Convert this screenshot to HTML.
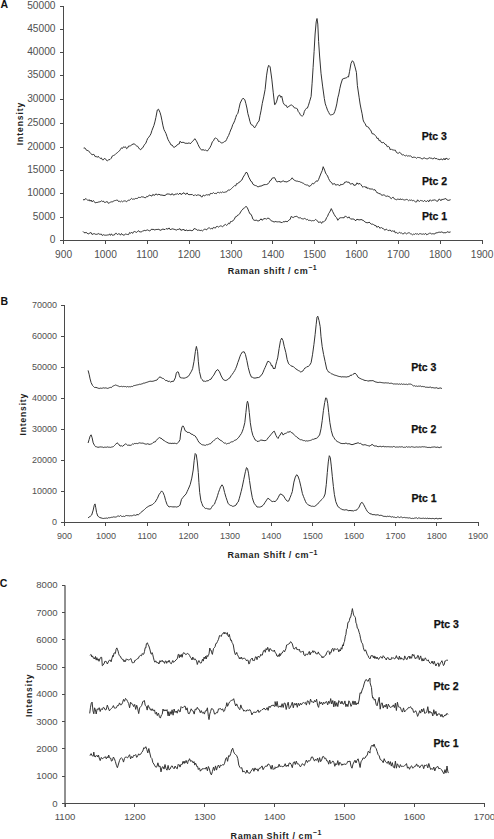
<!DOCTYPE html>
<html><head><meta charset="utf-8"><style>
html,body{margin:0;padding:0;background:#fff;overflow:hidden;}
svg{display:block;}
</style></head><body>
<svg width="494" height="839" viewBox="0 0 494 839">
<g stroke="#4a4a4a" stroke-width="1" fill="none" shape-rendering="crispEdges"><line x1="63.5" y1="6.3" x2="63.5" y2="240.3"/><line x1="60.0" y1="240.3" x2="63.5" y2="240.3"/><line x1="60.0" y1="217.4" x2="63.5" y2="217.4"/><line x1="60.0" y1="193.5" x2="63.5" y2="193.5"/><line x1="60.0" y1="170.5" x2="63.5" y2="170.5"/><line x1="60.0" y1="147.4" x2="63.5" y2="147.4"/><line x1="60.0" y1="123.6" x2="63.5" y2="123.6"/><line x1="60.0" y1="99.5" x2="63.5" y2="99.5"/><line x1="60.0" y1="75.5" x2="63.5" y2="75.5"/><line x1="60.0" y1="52.2" x2="63.5" y2="52.2"/><line x1="60.0" y1="29.4" x2="63.5" y2="29.4"/><line x1="60.0" y1="6.3" x2="63.5" y2="6.3"/><line x1="63.5" y1="240.3" x2="482.6" y2="240.3"/><line x1="63.6" y1="240.3" x2="63.6" y2="243.8"/><line x1="105.45" y1="240.3" x2="105.45" y2="243.8"/><line x1="147.3" y1="240.3" x2="147.3" y2="243.8"/><line x1="189.15" y1="240.3" x2="189.15" y2="243.8"/><line x1="231.0" y1="240.3" x2="231.0" y2="243.8"/><line x1="272.85" y1="240.3" x2="272.85" y2="243.8"/><line x1="314.70000000000005" y1="240.3" x2="314.70000000000005" y2="243.8"/><line x1="356.55" y1="240.3" x2="356.55" y2="243.8"/><line x1="398.40000000000003" y1="240.3" x2="398.40000000000003" y2="243.8"/><line x1="440.25000000000006" y1="240.3" x2="440.25000000000006" y2="243.8"/><line x1="482.1" y1="240.3" x2="482.1" y2="243.8"/></g><g font-family="Liberation Sans, sans-serif" font-size="10.2" fill="#505050" text-anchor="end"><text x="55.5" y="242.9">0</text><text x="55.5" y="220.0">5000</text><text x="55.5" y="196.1">10000</text><text x="55.5" y="173.1">15000</text><text x="55.5" y="150.0">20000</text><text x="55.5" y="126.2">25000</text><text x="55.5" y="102.1">30000</text><text x="55.5" y="78.1">35000</text><text x="55.5" y="54.8">40000</text><text x="55.5" y="32.0">45000</text><text x="55.5" y="8.9">50000</text></g><g font-family="Liberation Sans, sans-serif" font-size="10.2" fill="#505050" text-anchor="middle"><text x="63.6" y="257.5">900</text><text x="105.5" y="257.5">1000</text><text x="147.3" y="257.5">1100</text><text x="189.2" y="257.5">1200</text><text x="231.0" y="257.5">1300</text><text x="272.9" y="257.5">1400</text><text x="314.7" y="257.5">1500</text><text x="356.6" y="257.5">1600</text><text x="398.4" y="257.5">1700</text><text x="440.3" y="257.5">1800</text><text x="482.1" y="257.5">1900</text></g><text font-family="Liberation Sans, sans-serif" font-size="9" font-weight="bold" fill="#1e1e1e" x="227.7" y="274" textLength="89" lengthAdjust="spacing">Raman shift / cm<tspan font-size="7.0" dy="-3.6">&#8722;1</tspan></text><text font-family="Liberation Sans, sans-serif" font-size="8.5" font-weight="bold" fill="#1e1e1e" transform="translate(22.6,145.2) rotate(-90)" textLength="42.5" lengthAdjust="spacing">Intensity</text><text font-family="Liberation Sans, sans-serif" font-size="10.5" font-weight="bold" fill="#111" x="0.5" y="7.7">A</text><text font-family="Liberation Sans, sans-serif" font-size="10.5" font-weight="bold" fill="#111" stroke="#111" stroke-width="0.25" x="421.7" y="140.0">Ptc 3</text><text font-family="Liberation Sans, sans-serif" font-size="10.5" font-weight="bold" fill="#111" stroke="#111" stroke-width="0.25" x="422.0" y="185.4">Ptc 2</text><text font-family="Liberation Sans, sans-serif" font-size="10.5" font-weight="bold" fill="#111" stroke="#111" stroke-width="0.25" x="422.0" y="219.8">Ptc 1</text><polyline fill="none" stroke="#333" stroke-width="1" stroke-linejoin="round" points="83.6,148.1 84.9,147.9 86.1,149.8 87.1,150.5 88.1,150.4 89.1,151.8 90.1,152.5 91.1,153.8 92.1,154.9 93.2,154.4 94.2,154.7 95.2,156.7 96.2,156.3 97.2,157.4 98.2,156.2 99.2,157.5 100.2,158.5 101.3,157.9 102.3,159.7 103.3,159.9 104.3,158.5 105.3,158.7 106.3,160.0 107.3,161.0 108.6,159.8 110.0,159.5 111.2,158.3 112.4,155.9 113.4,155.5 114.4,155.1 115.4,154.4 116.4,153.3 117.4,152.7 118.5,151.5 119.5,150.8 120.5,149.3 121.5,147.8 122.5,148.4 123.5,146.8 124.5,147.3 125.5,146.8 126.6,148.7 127.6,148.0 128.6,146.0 129.6,146.0 130.7,145.7 131.9,144.7 133.0,144.1 134.4,143.8 135.7,145.3 136.7,146.0 137.7,146.3 138.7,147.9 139.7,149.2 140.7,149.8 141.7,148.3 142.8,147.7 143.8,145.8 144.8,144.2 145.8,143.3 146.8,140.5 147.8,138.2 148.8,137.2 149.8,135.7 150.9,133.9 151.9,130.6 152.9,128.0 153.9,125.5 154.9,121.9 155.9,117.4 157.3,110.0 158.5,109.2 160.0,112.4 161.0,115.9 162.0,120.8 163.0,125.9 164.0,129.7 165.0,131.6 166.0,133.6 167.0,136.6 168.1,139.7 169.1,141.4 170.1,143.1 171.1,145.0 172.1,145.0 173.1,146.7 174.1,147.5 175.1,146.6 176.2,146.2 177.2,144.8 178.2,144.2 179.2,144.0 180.1,141.2 181.1,142.5 182.1,142.4 183.1,142.3 184.1,142.6 185.1,143.3 186.1,143.2 187.1,143.4 188.2,143.3 189.2,142.7 190.2,143.9 191.2,142.8 192.2,141.6 193.5,140.5 194.8,138.7 195.9,140.2 196.9,141.9 198.1,144.6 199.3,147.1 200.5,148.8 201.7,150.2 203.0,149.6 204.4,150.3 205.4,150.0 206.4,150.6 207.4,151.0 208.6,149.4 209.8,147.8 211.1,145.3 212.4,141.7 213.5,140.8 214.5,138.5 215.5,138.0 216.5,138.5 217.5,139.2 218.5,141.5 219.5,141.4 220.5,142.0 221.6,143.2 222.6,142.7 223.6,142.3 224.6,141.5 225.6,141.2 226.6,139.5 227.6,137.2 228.6,135.5 229.7,132.6 230.7,130.0 231.7,127.9 232.7,124.7 233.7,123.0 234.7,120.7 235.7,117.6 236.7,114.7 237.8,113.6 239.0,108.3 240.2,103.1 241.8,99.8 243.0,98.2 244.8,99.7 245.9,103.7 246.9,108.0 247.9,113.7 248.9,117.2 249.9,121.3 250.9,124.3 251.9,125.0 252.9,125.4 254.6,127.9 255.6,126.4 256.6,124.6 257.8,122.2 259.0,121.2 260.0,115.6 261.0,110.9 262.3,103.3 263.7,96.9 265.1,89.6 266.5,75.9 267.7,68.2 268.7,65.3 270.1,66.8 271.8,79.1 273.2,92.2 274.6,104.6 275.1,104.6 276.5,101.9 278.1,96.1 279.7,95.0 280.7,97.3 281.7,96.1 283.2,102.7 284.2,104.5 285.2,105.3 286.2,105.3 287.2,107.5 288.2,107.1 289.2,106.0 290.2,105.4 291.3,104.9 292.3,105.6 293.3,106.2 294.3,107.8 295.3,108.0 296.3,108.3 297.3,108.8 298.3,111.7 299.4,112.8 300.4,114.8 301.4,115.9 302.4,116.0 303.4,115.1 304.4,111.3 305.4,109.6 306.4,108.3 307.4,108.1 308.5,105.2 309.5,101.8 311.1,96.5 312.1,83.2 313.1,67.4 314.1,51.4 315.1,34.0 316.2,21.9 317.0,18.5 317.8,24.1 318.6,41.3 319.6,56.0 321.0,73.2 322.6,86.1 324.3,98.4 325.3,103.9 326.3,106.6 327.5,110.2 328.7,112.4 329.7,114.4 330.7,115.0 331.7,114.7 332.8,114.4 333.8,113.8 334.8,111.4 335.8,108.1 336.8,103.9 337.8,97.8 338.8,94.1 339.8,88.7 340.9,84.0 342.5,79.0 343.9,78.5 345.2,78.1 346.5,77.9 347.5,76.7 348.5,77.0 349.6,71.3 351.0,63.4 352.4,60.7 353.6,62.1 355.0,66.9 356.4,72.3 357.4,85.7 359.1,97.2 360.1,104.0 361.1,109.1 362.1,113.8 363.1,119.9 364.1,122.5 365.1,123.4 366.2,126.2 367.2,126.6 368.4,127.1 369.6,129.2 370.1,129.4 371.1,131.0 372.1,133.7 373.1,133.8 374.1,134.2 375.1,135.3 376.1,136.4 377.1,138.5 378.2,138.2 379.2,140.8 380.2,140.4 381.2,142.3 382.2,142.8 383.2,142.3 384.2,143.0 385.2,144.4 386.3,144.7 387.3,146.8 388.3,146.4 389.3,147.1 390.3,149.9 391.3,148.9 392.3,149.9 393.3,150.0 394.4,150.2 395.4,150.2 396.4,152.4 397.4,153.0 398.4,153.4 399.4,152.2 400.4,152.8 401.4,154.0 402.4,155.1 403.5,154.7 404.5,155.5 405.5,155.9 406.5,155.3 407.5,156.1 408.5,155.8 409.5,156.0 410.5,155.9 411.6,156.6 412.6,158.0 413.6,156.9 414.6,157.3 415.6,157.5 416.6,158.3 417.6,157.4 418.6,157.5 419.7,157.7 420.7,157.9 421.7,158.9 422.7,159.0 423.7,157.8 424.7,158.0 425.7,158.6 426.7,158.8 427.8,158.8 428.8,158.1 429.8,157.7 430.8,158.3 431.8,158.1 432.8,159.2 433.8,158.1 434.8,157.9 435.9,158.9 436.9,158.4 437.9,159.6 438.9,159.2 439.9,160.0 440.9,158.7 441.9,159.5 442.9,159.9 443.9,158.3 445.0,160.0 446.0,158.0 447.0,158.8 448.3,159.4 449.6,158.6"/><polyline fill="none" stroke="#333" stroke-width="1" stroke-linejoin="round" points="83.0,199.4 84.0,200.1 85.1,199.1 86.1,198.6 87.1,199.7 88.1,200.7 89.1,199.6 90.1,201.2 91.1,200.0 92.1,201.9 93.2,200.5 94.2,201.4 95.2,202.9 96.2,202.5 97.2,202.5 98.2,202.1 99.2,201.9 100.2,201.8 101.3,200.8 102.3,201.5 103.3,201.0 104.3,202.3 105.3,202.4 106.3,201.8 107.3,201.6 108.3,203.3 109.4,202.8 110.4,202.2 111.4,201.8 112.4,202.1 113.4,201.0 114.4,200.7 115.4,200.5 116.4,200.2 117.4,200.0 118.5,201.5 119.5,201.3 120.5,201.8 121.5,201.0 122.5,201.8 123.5,201.1 124.5,200.9 125.5,201.0 126.6,201.8 127.6,200.6 128.6,200.2 129.6,200.3 130.6,199.2 131.6,198.4 132.6,199.3 133.6,199.0 134.7,199.1 135.7,198.4 136.7,198.5 137.7,198.3 138.7,197.2 139.7,197.5 140.7,197.4 141.7,196.7 142.8,197.0 143.8,197.1 144.8,197.7 145.8,197.7 146.8,196.3 147.8,196.8 148.8,195.4 149.8,195.1 150.9,195.7 151.9,196.1 152.9,194.3 153.9,195.2 154.9,195.2 155.9,193.8 156.9,194.6 157.9,195.0 158.9,194.1 160.0,194.9 161.0,195.1 162.0,195.0 163.0,195.4 164.0,195.4 165.0,195.5 166.0,194.7 167.0,193.9 168.1,194.1 169.1,193.9 170.1,194.6 171.1,194.9 172.1,193.5 173.1,194.9 174.1,195.0 175.1,194.1 176.2,194.3 177.2,193.5 178.6,194.5 180.0,193.0 181.0,194.6 182.0,193.9 183.0,193.3 184.0,192.7 185.1,194.1 186.1,194.3 187.1,192.9 188.1,194.4 189.1,194.7 190.1,194.5 191.1,194.7 192.1,194.3 193.2,195.4 194.2,195.6 195.2,194.6 196.2,195.6 197.2,195.1 198.2,194.8 199.2,195.3 200.2,195.1 201.3,196.9 202.3,196.8 203.3,195.0 204.3,195.8 205.3,195.4 206.3,194.7 207.3,195.0 208.3,194.6 209.4,195.3 210.4,193.4 211.4,193.5 212.4,193.6 213.4,192.5 214.4,193.5 215.4,193.4 216.4,193.7 217.4,192.4 218.5,192.4 219.5,192.9 220.5,192.2 221.5,192.7 222.5,191.9 223.5,192.4 224.5,192.3 225.5,192.0 226.6,191.9 227.6,190.5 228.6,190.0 229.6,190.1 230.6,189.4 231.6,188.5 232.6,187.4 233.6,186.6 234.7,185.5 235.7,185.9 236.7,183.5 237.7,183.8 238.7,182.4 239.7,182.2 240.7,180.8 241.9,180.0 243.2,177.1 244.8,174.6 246.0,172.3 247.2,172.8 248.8,177.2 249.8,179.0 250.9,181.3 251.9,181.8 252.9,184.2 254.1,185.0 255.3,185.5 256.6,185.9 257.9,186.9 258.9,186.6 260.0,186.0 261.0,186.2 262.0,185.6 263.0,185.2 264.0,184.7 265.3,184.6 266.6,184.5 267.9,183.9 269.1,182.5 270.1,180.6 271.1,180.2 272.1,178.2 273.1,177.9 274.5,177.6 276.2,180.7 277.2,182.0 278.2,181.5 280.0,181.6 280.1,182.1 281.1,181.9 282.1,181.5 283.1,180.7 284.1,181.5 285.1,181.7 286.1,181.7 287.1,182.1 288.2,181.0 289.2,180.7 290.2,180.2 291.2,179.1 292.2,177.8 293.2,179.3 294.2,180.1 295.2,180.6 296.3,181.1 297.3,181.1 298.3,181.5 299.3,181.5 300.3,182.1 301.3,182.3 302.3,182.9 303.3,183.2 304.4,184.2 305.4,184.6 306.4,185.0 307.7,185.1 309.0,186.3 310.2,186.1 311.4,184.8 312.4,183.3 313.5,184.0 314.5,182.7 315.5,182.1 316.5,180.8 317.5,181.3 318.5,179.7 319.5,177.1 321.2,172.9 322.2,170.7 323.2,166.7 324.6,170.1 325.6,173.0 326.6,174.6 327.6,176.0 328.6,178.6 329.7,180.7 330.7,182.1 331.7,182.6 332.7,184.5 333.7,183.8 334.7,183.6 335.7,185.2 336.7,184.8 337.8,184.6 338.8,185.1 339.8,185.8 340.8,184.2 341.8,184.7 342.8,184.3 343.8,183.9 344.8,182.1 345.9,182.1 346.9,181.6 347.9,182.5 348.9,182.0 349.9,183.7 350.9,184.2 351.9,183.6 352.9,183.6 353.9,185.4 355.0,185.1 356.0,184.9 357.0,182.8 358.0,184.1 359.0,183.8 360.0,183.5 361.0,184.7 362.0,186.3 363.1,187.3 364.1,186.3 365.1,187.4 366.1,186.7 367.1,188.5 368.1,187.6 369.1,188.8 370.1,188.9 371.2,189.1 372.2,188.9 373.6,189.9 375.0,189.7 376.1,191.3 377.1,192.9 378.1,192.7 379.1,193.9 380.1,193.4 381.1,194.8 382.1,195.3 383.2,194.9 384.2,194.9 385.2,195.8 386.2,196.4 387.2,195.9 388.2,196.4 389.2,196.4 390.2,197.8 391.3,198.7 392.3,197.5 393.3,197.3 394.3,198.9 395.3,199.3 396.3,199.8 397.3,199.3 398.3,198.9 399.4,200.0 400.4,198.7 401.4,200.0 402.4,199.0 403.4,199.7 404.4,200.0 405.4,199.8 406.4,199.4 407.4,199.6 408.5,200.7 409.5,200.0 410.5,200.4 411.5,199.8 412.5,200.9 413.5,200.4 414.5,201.1 415.5,201.9 416.6,201.9 417.6,199.8 418.6,201.1 419.6,201.4 420.6,200.4 421.6,200.7 422.6,200.9 423.6,201.5 424.7,200.3 425.7,201.5 426.7,201.4 427.7,200.4 428.7,201.9 429.7,200.0 430.7,200.2 431.7,201.1 432.8,199.8 433.8,200.3 434.8,199.8 435.8,200.4 436.8,201.2 437.8,201.2 438.8,199.3 439.8,199.2 440.9,200.8 441.9,199.2 442.9,199.6 443.9,199.1 444.9,198.9 445.9,198.5 446.9,199.9 447.9,200.3 448.9,200.3 450.6,199.7"/><polyline fill="none" stroke="#333" stroke-width="1" stroke-linejoin="round" points="83.0,231.4 84.0,232.6 85.1,232.8 86.1,232.4 87.1,233.1 88.1,234.0 89.1,233.5 90.1,232.8 91.1,232.6 92.1,234.5 93.2,233.9 94.2,233.6 95.2,234.2 96.2,234.3 97.2,234.3 98.2,233.5 99.2,234.1 100.2,234.3 101.3,234.0 102.3,235.5 103.3,234.7 104.3,235.1 105.3,235.2 106.3,235.2 107.3,235.0 108.3,235.0 109.4,234.0 110.4,235.4 111.4,233.8 112.4,235.3 113.4,235.1 114.4,235.0 115.4,233.4 116.4,233.3 117.4,234.6 118.5,233.8 119.5,233.8 120.5,235.2 121.5,233.5 122.8,234.9 124.1,235.2 125.3,234.1 126.6,234.3 127.6,234.5 128.6,234.6 129.6,232.5 130.6,233.3 131.6,232.2 132.6,233.4 133.6,231.8 134.7,231.5 135.7,232.0 136.7,232.4 137.7,231.3 138.7,230.7 139.7,232.0 140.7,231.9 141.7,231.9 142.8,230.7 143.8,230.8 144.8,230.3 145.8,230.7 146.8,230.1 147.8,229.9 148.8,230.6 149.8,230.9 150.9,230.0 151.9,228.9 152.9,229.8 153.9,229.3 154.9,230.2 155.9,229.4 156.9,229.5 157.9,229.4 158.9,229.3 160.0,230.2 161.0,230.2 162.0,229.3 163.0,229.1 164.0,229.4 165.0,229.6 166.0,228.6 167.0,228.9 168.1,229.1 169.1,227.9 170.1,229.6 171.1,229.4 172.1,228.8 173.1,229.0 174.1,229.3 175.1,229.5 176.2,230.2 177.2,229.5 178.2,229.5 180.0,228.7 181.0,230.5 182.0,229.6 183.0,229.9 184.0,229.3 185.1,231.0 186.1,229.8 187.1,230.6 188.1,230.5 189.1,230.4 190.1,230.2 191.1,230.6 192.1,230.7 193.2,230.1 194.2,228.5 195.2,228.9 196.2,229.2 197.2,230.3 198.2,230.0 199.2,230.2 200.2,230.6 201.3,230.2 202.3,231.0 203.3,230.1 204.3,229.3 205.3,229.2 206.3,230.0 207.3,228.9 208.3,228.1 209.4,227.9 210.4,228.8 211.4,228.4 212.4,229.0 213.4,227.4 214.4,227.7 215.4,228.1 216.4,226.5 217.4,226.4 218.5,227.1 219.5,226.4 220.5,225.9 221.5,226.1 222.5,226.7 223.5,226.1 224.5,224.8 225.5,224.4 226.6,225.4 227.6,224.6 228.6,223.1 229.6,223.8 230.6,221.5 231.6,221.5 232.9,220.9 234.3,219.2 235.5,216.8 236.7,216.5 237.7,215.0 238.7,214.7 239.7,213.8 241.0,211.2 242.3,210.0 243.4,208.4 244.4,207.9 246.0,206.4 247.2,207.4 248.8,211.3 249.8,213.7 250.9,214.2 251.9,216.1 252.9,219.2 253.9,220.1 254.9,220.4 255.9,220.3 256.9,220.2 257.9,221.1 258.9,220.7 260.0,220.1 261.0,218.8 262.0,220.3 263.0,219.4 264.0,218.7 265.3,218.6 266.6,219.1 267.9,218.0 269.1,218.6 270.3,219.5 271.5,221.1 272.8,221.3 274.1,222.1 275.1,221.5 276.2,221.7 277.2,221.9 278.6,221.8 280.0,221.9 281.1,222.4 282.1,222.7 283.1,221.6 284.1,222.0 285.1,221.4 286.1,221.4 287.1,221.8 288.2,220.9 289.2,219.8 290.2,219.4 291.2,216.4 292.2,217.1 293.2,217.6 294.2,216.8 295.2,216.6 296.3,216.3 297.3,216.5 298.3,217.8 299.3,217.9 300.3,217.7 301.3,218.5 302.3,218.8 303.3,219.0 304.4,218.4 305.4,218.8 306.4,219.7 307.4,219.3 308.4,220.4 309.4,220.3 310.4,220.4 311.4,220.9 312.4,220.6 313.5,220.7 314.5,220.5 315.5,219.4 316.5,220.2 317.5,220.8 318.5,222.5 319.5,222.2 320.5,221.8 321.6,223.4 322.6,221.6 323.6,221.8 324.6,221.2 325.6,220.1 326.6,217.6 327.6,216.3 328.6,213.6 329.7,212.1 331.3,208.6 332.7,211.6 334.3,214.7 335.7,216.9 336.7,217.8 337.8,220.3 339.0,218.5 340.2,217.8 341.5,217.7 342.8,217.7 344.1,217.8 345.4,215.9 346.7,217.2 347.9,218.0 348.9,216.8 349.9,218.2 350.9,219.3 351.9,218.8 352.9,219.1 353.9,219.0 355.0,220.4 356.0,220.6 357.0,219.0 358.0,219.9 359.0,219.6 360.0,220.1 361.0,219.3 362.0,220.0 363.1,220.3 364.1,221.1 365.1,222.0 366.1,222.5 367.1,222.7 368.1,222.8 369.1,222.0 370.1,223.1 371.2,224.2 372.2,224.0 373.6,224.6 375.0,225.6 376.1,225.7 377.1,227.4 378.1,226.2 379.1,227.0 380.1,228.4 381.1,227.3 382.1,228.3 383.2,228.4 384.2,229.7 385.2,230.2 386.2,229.0 387.2,229.7 388.2,230.7 389.2,230.3 390.2,230.0 391.3,231.4 392.3,230.8 393.3,231.4 394.3,230.7 395.3,232.9 396.3,232.4 397.3,233.2 398.3,233.4 399.4,232.2 400.4,233.0 401.4,232.9 402.4,233.7 403.4,234.0 404.4,232.8 405.4,233.0 406.4,233.9 407.4,233.3 408.5,232.8 409.5,232.9 410.5,233.8 411.5,234.0 412.5,234.8 413.5,234.1 414.5,234.4 415.5,233.6 416.6,234.1 417.6,233.8 418.6,234.5 419.6,233.7 420.6,233.7 421.6,234.1 422.6,234.2 423.6,233.9 424.7,234.3 425.7,233.4 426.7,234.8 427.7,234.3 428.7,233.9 429.7,232.9 430.7,233.4 431.7,234.0 432.8,233.7 433.8,233.9 434.8,234.0 435.8,232.7 436.8,232.9 437.8,232.6 438.8,232.2 439.8,232.2 440.9,232.3 441.9,231.8 442.9,232.6 443.9,232.9 444.9,232.6 445.9,232.9 446.9,231.9 447.9,231.8 448.9,232.4 450.6,231.9"/><g stroke="#4a4a4a" stroke-width="1" fill="none" shape-rendering="crispEdges"><line x1="64.5" y1="305.12" x2="64.5" y2="522.4"/><line x1="61.0" y1="522.4" x2="64.5" y2="522.4"/><line x1="61.0" y1="491.35999999999996" x2="64.5" y2="491.35999999999996"/><line x1="61.0" y1="460.32" x2="64.5" y2="460.32"/><line x1="61.0" y1="429.28" x2="64.5" y2="429.28"/><line x1="61.0" y1="398.24" x2="64.5" y2="398.24"/><line x1="61.0" y1="367.2" x2="64.5" y2="367.2"/><line x1="61.0" y1="336.15999999999997" x2="64.5" y2="336.15999999999997"/><line x1="61.0" y1="305.12" x2="64.5" y2="305.12"/><line x1="64.5" y1="522.4" x2="478.6" y2="522.4"/><line x1="64.5" y1="522.4" x2="64.5" y2="525.9"/><line x1="105.86" y1="522.4" x2="105.86" y2="525.9"/><line x1="147.22" y1="522.4" x2="147.22" y2="525.9"/><line x1="188.57999999999998" y1="522.4" x2="188.57999999999998" y2="525.9"/><line x1="229.94" y1="522.4" x2="229.94" y2="525.9"/><line x1="271.3" y1="522.4" x2="271.3" y2="525.9"/><line x1="312.65999999999997" y1="522.4" x2="312.65999999999997" y2="525.9"/><line x1="354.02" y1="522.4" x2="354.02" y2="525.9"/><line x1="395.38" y1="522.4" x2="395.38" y2="525.9"/><line x1="436.74" y1="522.4" x2="436.74" y2="525.9"/><line x1="478.1" y1="522.4" x2="478.1" y2="525.9"/></g><g font-family="Liberation Sans, sans-serif" font-size="9" fill="#505050" text-anchor="end"><text x="57" y="524.8">0</text><text x="57" y="493.8">10000</text><text x="57" y="462.7">20000</text><text x="57" y="431.7">30000</text><text x="57" y="400.6">40000</text><text x="57" y="369.6">50000</text><text x="57" y="338.6">60000</text><text x="57" y="307.5">70000</text></g><g font-family="Liberation Sans, sans-serif" font-size="9" fill="#505050" text-anchor="middle"><text x="64.5" y="538.8">900</text><text x="105.9" y="538.8">1000</text><text x="147.2" y="538.8">1100</text><text x="188.6" y="538.8">1200</text><text x="229.9" y="538.8">1300</text><text x="271.3" y="538.8">1400</text><text x="312.7" y="538.8">1500</text><text x="354.0" y="538.8">1600</text><text x="395.4" y="538.8">1700</text><text x="436.7" y="538.8">1800</text><text x="478.1" y="538.8">1900</text></g><text font-family="Liberation Sans, sans-serif" font-size="9" font-weight="bold" fill="#1e1e1e" x="227.5" y="558.2" textLength="90" lengthAdjust="spacing">Raman Shift / cm<tspan font-size="7.0" dy="-3.6">&#8722;1</tspan></text><text font-family="Liberation Sans, sans-serif" font-size="8.5" font-weight="bold" fill="#1e1e1e" transform="translate(25.8,435.5) rotate(-90)" textLength="41.8" lengthAdjust="spacing">Intensity</text><text font-family="Liberation Sans, sans-serif" font-size="10.5" font-weight="bold" fill="#111" x="0.5" y="304.7">B</text><text font-family="Liberation Sans, sans-serif" font-size="10.5" font-weight="bold" fill="#111" stroke="#111" stroke-width="0.25" x="411.2" y="370.9">Ptc 3</text><text font-family="Liberation Sans, sans-serif" font-size="10.5" font-weight="bold" fill="#111" stroke="#111" stroke-width="0.25" x="411.2" y="433.4">Ptc 2</text><text font-family="Liberation Sans, sans-serif" font-size="10.5" font-weight="bold" fill="#111" stroke="#111" stroke-width="0.25" x="411.4" y="501.9">Ptc 1</text><polyline fill="none" stroke="#333" stroke-width="1" stroke-linejoin="round" points="88.1,370.4 89.1,374.2 90.1,378.9 91.1,382.6 92.6,385.6 93.6,386.6 94.6,387.5 95.9,387.4 97.2,387.8 98.2,388.2 99.2,388.5 100.2,388.1 101.3,388.3 102.3,388.2 103.3,387.8 104.3,388.1 105.3,387.9 106.3,388.0 107.3,388.4 108.3,388.2 109.4,387.7 110.4,387.4 111.4,387.6 112.4,386.4 113.4,385.9 114.4,385.5 115.4,385.0 116.4,385.3 117.4,385.7 118.5,386.1 119.5,386.6 120.5,386.5 121.5,386.3 122.5,386.7 123.5,386.4 124.5,386.6 125.5,386.5 126.6,387.0 127.6,386.5 128.6,386.9 129.6,386.7 130.6,386.8 131.6,386.4 132.6,386.5 133.6,385.7 134.7,385.5 135.7,385.3 136.7,385.0 137.7,384.8 138.7,384.6 139.7,384.2 140.7,384.3 141.7,383.9 142.8,383.6 143.8,383.0 144.8,383.1 145.8,382.6 146.8,382.3 147.8,382.0 148.8,381.6 149.8,381.3 150.9,381.2 151.9,381.4 152.9,381.2 153.9,381.0 154.9,380.6 155.9,380.3 156.9,380.1 157.9,378.8 158.9,377.5 160.0,376.9 161.1,377.5 162.3,378.3 163.4,378.5 164.5,379.5 165.7,380.6 166.9,380.5 168.1,381.5 169.4,381.2 170.6,382.1 172.0,381.3 173.5,381.4 175.3,377.9 176.3,373.2 177.3,371.8 178.4,372.1 179.4,375.7 180.1,377.5 181.4,377.9 182.7,378.0 184.1,378.2 185.5,377.8 186.9,377.2 188.3,376.4 189.4,374.8 190.5,372.9 191.5,371.2 192.6,368.7 194.0,361.4 195.4,351.3 196.4,346.4 197.6,351.7 198.3,361.2 199.4,371.4 201.1,378.4 202.2,379.5 203.2,381.2 204.3,381.1 205.3,381.5 206.8,380.8 208.2,380.8 209.6,379.6 211.0,379.2 212.4,376.8 213.8,375.1 214.9,373.0 216.0,370.9 217.8,369.5 219.5,371.8 221.2,376.0 223.1,379.4 224.1,380.0 225.2,380.5 226.2,380.3 227.3,380.0 228.7,378.4 230.0,377.8 231.0,375.8 232.1,374.5 233.4,372.6 234.7,370.6 235.7,368.5 236.7,366.1 237.8,362.6 238.8,360.0 239.8,356.9 240.8,354.4 242.4,352.0 244.2,351.8 245.4,354.3 246.9,360.7 248.3,367.7 249.9,373.7 251.5,377.2 252.7,377.4 253.9,378.1 255.0,378.0 256.0,378.0 257.0,377.6 258.3,377.6 259.6,377.2 260.8,375.4 262.0,374.6 263.1,372.2 264.1,369.7 265.1,367.5 266.1,365.2 267.7,361.4 269.1,361.5 270.5,363.1 271.6,366.1 272.2,365.5 273.6,369.0 273.8,368.1 275.0,368.7 275.7,365.2 276.7,361.4 277.7,357.9 279.1,348.6 280.5,340.5 281.7,338.1 283.0,340.7 284.2,346.3 285.8,352.4 287.2,359.7 288.6,363.8 289.6,364.5 290.6,365.5 292.0,366.3 293.3,366.5 294.6,367.9 295.9,368.9 297.1,369.7 298.3,370.5 299.6,371.1 300.8,372.1 301.8,371.5 302.8,371.1 303.8,369.5 304.8,368.1 305.8,367.8 306.8,366.7 308.2,366.5 309.5,365.4 311.1,362.7 312.5,354.8 313.9,344.7 315.1,334.7 316.2,324.3 317.0,317.1 317.8,316.2 319.0,320.5 320.2,326.7 321.0,336.8 322.2,346.7 323.6,354.5 325.1,361.5 326.7,369.0 327.7,370.7 328.7,372.2 329.7,372.3 330.7,373.3 331.7,373.9 332.8,374.2 333.8,374.8 334.8,375.2 335.8,375.4 336.8,375.7 337.8,376.1 338.8,376.4 339.8,376.6 340.9,376.7 341.9,377.1 342.9,376.6 343.9,377.0 344.9,376.8 345.9,377.0 346.9,377.0 347.9,376.6 348.9,376.6 350.0,375.7 351.0,375.0 352.0,375.3 353.0,374.3 354.0,373.7 355.0,373.2 356.6,374.6 358.1,377.3 359.1,377.9 360.1,378.4 361.4,379.1 362.7,379.5 363.9,380.1 365.1,380.5 366.4,380.5 367.6,380.9 368.0,381.1 370.0,380.7 371.1,380.8 372.1,380.6 373.1,380.7 374.1,381.2 375.1,381.8 376.1,382.0 377.1,382.3 378.2,382.5 379.2,382.3 380.2,382.3 381.2,382.5 382.2,382.7 383.2,382.8 384.2,383.0 385.2,382.8 386.3,382.9 387.3,383.0 388.3,382.9 389.3,383.4 390.3,383.3 391.3,383.2 392.3,383.5 393.3,384.0 394.4,383.9 395.4,384.0 396.4,384.0 397.4,383.9 398.4,384.3 399.4,383.9 400.4,384.4 401.4,383.8 402.4,384.4 403.5,384.1 404.5,384.3 405.5,384.4 406.5,384.2 407.5,384.6 408.5,384.1 409.5,384.1 410.5,384.1 411.6,384.5 412.6,385.3 413.6,386.0 414.6,385.7 415.6,386.3 416.6,386.0 417.6,386.4 418.6,386.1 419.7,386.2 420.7,386.0 421.7,386.7 422.7,386.4 423.7,386.7 424.7,386.7 425.7,387.3 426.7,387.2 427.8,387.3 428.8,387.4 429.8,387.2 430.8,387.1 431.8,387.9 432.8,387.5 433.8,387.9 434.8,388.0 435.9,387.9 436.9,387.7 437.9,388.5 438.9,388.3 439.9,388.0 440.9,388.0 441.9,388.6"/><polyline fill="none" stroke="#333" stroke-width="1" stroke-linejoin="round" points="88.1,443.0 89.1,439.6 90.1,436.2 91.1,434.8 92.1,437.7 93.2,442.9 94.6,445.5 95.6,446.7 96.6,446.8 97.9,447.3 99.2,447.1 100.2,446.9 101.3,447.0 102.3,447.0 103.3,447.5 104.3,447.2 105.3,447.2 106.3,447.3 107.3,446.9 108.3,447.2 109.4,447.2 110.4,447.4 111.4,447.1 112.4,446.9 113.4,446.6 114.4,445.6 115.4,444.6 117.0,442.8 118.5,443.9 120.1,446.1 121.3,445.7 122.5,446.3 124.1,445.0 125.5,443.9 126.6,444.4 127.6,445.3 128.9,445.1 130.2,445.4 131.4,445.0 132.6,443.9 133.6,444.2 134.7,443.4 135.7,443.6 136.7,443.4 137.7,443.6 138.7,443.1 139.7,442.8 140.7,443.1 141.7,443.2 142.8,443.1 143.8,443.4 144.8,443.9 145.8,444.1 146.8,444.1 147.8,443.7 149.1,444.4 150.4,444.2 151.7,443.9 152.9,442.7 154.1,442.0 155.3,441.9 156.3,440.4 157.3,439.2 158.3,438.4 159.4,437.5 161.0,438.4 162.0,438.8 163.0,440.0 164.2,440.6 165.4,441.5 166.7,442.2 168.1,442.9 169.1,443.4 170.1,443.1 171.1,443.6 172.1,443.2 173.1,443.5 174.1,443.2 175.4,443.4 176.8,443.7 177.8,442.8 178.8,441.9 180.0,439.6 180.7,432.8 182.1,426.6 183.1,425.9 184.1,427.7 185.1,430.7 186.1,431.1 187.1,432.3 188.2,432.4 189.2,432.5 190.2,433.0 191.2,434.2 192.2,434.1 193.2,435.2 194.2,435.4 195.2,436.0 196.9,438.6 197.9,440.5 198.9,442.3 200.1,443.2 201.3,444.3 202.3,444.8 203.3,444.9 204.4,445.2 205.4,445.4 206.4,444.7 207.4,444.8 208.4,444.4 209.4,443.9 210.4,443.9 211.7,442.3 213.1,441.3 214.3,440.1 215.5,439.0 216.5,438.5 217.5,437.9 219.1,439.2 220.1,440.1 221.2,440.6 222.4,441.4 223.6,442.7 224.6,443.2 225.6,443.1 226.6,444.0 227.6,443.5 228.6,443.3 229.7,443.1 230.7,442.2 231.7,441.8 232.7,441.9 233.7,440.9 234.7,440.3 235.7,440.0 236.7,439.5 237.8,438.2 238.8,437.3 240.1,435.3 241.4,433.5 242.4,431.2 243.4,428.3 244.8,422.7 245.9,412.6 246.9,403.4 247.5,401.2 248.3,404.0 249.3,412.6 250.3,422.7 251.5,430.2 252.9,435.5 253.9,437.4 255.0,439.8 256.0,440.2 257.0,441.4 258.3,441.3 259.6,440.9 260.8,440.0 262.0,440.2 263.1,440.4 264.1,440.7 265.1,440.5 266.1,440.5 267.1,439.3 268.1,437.9 269.1,436.6 270.1,435.8 271.2,434.2 272.2,433.1 273.2,431.8 274.2,431.1 275.0,432.9 276.1,435.6 277.1,437.4 278.1,438.5 279.1,436.3 280.1,435.0 281.7,432.3 283.2,435.1 284.2,433.8 285.2,433.5 286.5,433.0 287.8,431.9 289.0,432.2 290.2,431.3 291.3,432.6 292.3,432.7 293.3,434.1 294.3,434.9 295.5,435.9 296.7,437.1 298.0,438.0 299.4,439.1 300.4,439.7 301.4,439.7 302.4,440.1 303.4,440.6 304.4,440.5 305.4,441.1 306.4,440.8 307.4,441.0 308.5,440.8 309.5,440.6 310.5,440.4 311.5,440.0 312.5,439.3 313.7,439.3 314.9,438.7 316.3,438.4 317.6,437.6 318.6,436.1 319.6,435.0 321.0,428.8 322.2,420.7 323.4,410.7 324.7,402.5 325.7,397.9 326.7,398.3 327.7,403.3 328.7,412.4 329.9,422.7 331.3,430.7 332.8,436.0 333.8,437.4 334.8,439.1 336.0,440.5 337.2,441.5 338.5,442.1 339.8,442.8 340.9,443.4 341.9,443.5 342.9,443.6 343.9,443.5 344.9,443.6 345.9,443.0 346.9,443.5 347.9,444.0 348.9,443.6 350.0,444.0 351.0,444.4 352.0,444.7 353.0,444.4 354.0,444.1 355.0,443.7 356.0,443.4 357.0,443.2 358.1,442.7 359.4,443.5 360.7,443.4 361.9,444.5 363.1,445.0 364.1,444.8 365.1,444.7 366.2,445.1 367.4,445.5 368.7,445.8 370.0,446.1 371.0,445.1 372.1,444.5 373.1,444.9 374.1,446.0 375.1,446.1 376.1,445.8 377.1,446.4 378.2,446.7 379.2,446.5 380.2,446.2 381.2,446.8 382.2,446.6 383.2,446.2 384.2,446.8 385.2,446.6 386.3,446.8 387.3,446.7 388.3,446.7 389.3,446.8 390.3,446.9 391.3,446.8 392.3,447.1 393.3,446.5 394.4,446.6 395.4,447.2 396.4,447.0 397.4,447.0 398.4,447.1 399.4,446.8 400.4,447.0 401.4,446.8 402.4,446.8 403.5,447.4 404.5,447.2 405.5,447.3 406.5,446.6 407.5,447.2 408.5,446.9 409.5,447.0 410.5,447.2 411.6,446.7 412.6,446.9 413.6,447.1 414.6,447.3 415.6,447.1 416.6,446.9 417.6,447.1 418.6,447.1 419.7,446.9 420.7,447.1 421.7,446.9 422.7,446.7 423.7,446.9 424.7,446.8 425.7,447.1 426.7,447.2 427.8,447.5 428.8,447.4 429.8,447.4 430.8,447.6 431.8,447.1 432.8,447.1 433.8,447.0 434.8,446.9 435.9,447.3 436.9,447.3 437.9,447.0 438.9,447.6 439.9,447.6 440.9,446.9 441.9,447.2"/><polyline fill="none" stroke="#333" stroke-width="1" stroke-linejoin="round" points="88.1,517.9 89.1,517.0 90.1,516.5 91.7,515.0 93.2,510.1 94.2,505.4 95.0,503.9 95.8,507.8 96.6,512.7 97.8,516.1 98.8,516.8 99.8,517.6 101.1,517.9 102.3,518.3 103.3,518.5 104.3,518.3 105.3,518.3 106.3,518.0 107.3,518.4 108.3,517.7 109.4,517.8 110.4,517.6 111.4,517.3 112.4,517.3 113.4,516.9 114.4,517.0 115.4,517.1 116.4,516.9 117.4,516.2 118.5,516.0 119.5,516.4 120.5,515.5 121.5,516.3 122.5,516.5 123.5,516.2 124.5,516.5 125.5,515.8 126.6,515.5 127.6,515.7 128.6,515.7 129.6,515.9 130.6,515.7 131.6,515.8 132.6,515.6 133.6,515.1 134.7,515.1 135.7,515.4 137.0,514.5 138.3,514.8 139.5,513.9 140.7,512.6 141.9,511.6 143.2,510.6 144.5,509.5 145.8,508.2 146.8,507.3 147.8,506.8 148.8,506.1 150.0,505.6 151.3,505.1 152.3,504.7 153.3,503.8 154.3,502.8 155.3,502.0 156.3,500.1 157.3,498.6 158.9,494.8 160.6,492.4 161.6,490.9 163.0,492.5 164.4,495.7 165.6,500.4 167.0,504.4 168.1,506.0 169.1,507.0 170.3,506.6 171.5,506.7 172.8,506.9 174.1,506.9 175.4,506.8 176.8,507.1 177.8,506.6 178.8,506.3 180.0,505.1 181.5,499.3 182.8,497.6 184.1,496.0 185.1,495.0 186.1,493.9 187.1,491.7 188.2,489.3 189.2,487.0 190.2,484.6 191.8,478.1 193.2,470.0 194.2,460.3 195.2,453.5 196.3,454.7 197.3,462.0 198.3,472.6 198.9,482.3 199.7,492.5 200.9,500.7 201.9,503.5 202.9,506.1 204.1,507.3 205.4,508.5 206.6,508.4 207.8,508.9 209.1,509.0 210.4,509.2 211.4,507.7 212.4,506.1 213.5,504.9 214.5,504.1 215.5,501.2 216.5,498.9 217.5,495.7 218.5,492.4 219.5,489.7 220.5,487.1 222.0,484.8 223.2,486.6 224.6,492.5 226.0,497.3 227.0,500.2 228.0,503.2 229.4,504.8 230.7,505.5 231.7,505.7 232.7,506.4 233.7,506.2 234.9,505.7 236.1,505.0 237.1,503.0 238.2,502.0 239.2,498.8 240.2,495.2 241.2,491.3 242.2,487.2 243.8,479.3 245.4,471.7 246.5,467.6 247.5,468.5 248.5,473.2 249.5,480.5 250.9,489.9 252.3,497.7 253.3,501.0 254.4,503.7 255.7,505.2 257.0,507.0 258.3,507.0 259.6,507.1 260.8,506.8 262.0,506.2 263.1,505.3 264.1,504.0 265.1,502.3 266.1,500.9 267.7,498.4 269.1,498.8 270.5,500.4 272.2,501.6 273.6,501.3 275.0,501.6 276.5,500.4 278.1,497.8 279.7,494.5 281.1,493.9 282.1,495.0 283.2,495.4 284.2,497.0 285.2,498.7 286.2,500.1 287.2,501.2 288.6,501.1 290.2,497.3 291.3,494.5 292.3,491.6 293.9,482.1 295.3,477.1 296.7,474.7 297.9,476.0 299.4,480.2 300.8,486.2 302.4,493.5 303.4,496.3 304.4,498.7 305.4,501.3 306.4,503.2 307.7,504.4 308.9,505.2 310.2,505.7 311.5,506.3 312.5,506.2 313.5,506.4 314.5,506.4 315.5,506.0 316.6,504.6 317.6,504.1 318.6,502.9 319.6,501.5 320.6,500.9 321.6,499.5 322.6,498.5 323.6,497.6 325.1,494.0 326.3,484.3 327.3,472.5 328.3,461.9 329.3,455.7 330.3,457.5 331.3,466.1 332.3,476.3 333.4,486.6 334.4,494.7 335.8,501.7 336.8,504.1 337.8,506.5 339.1,507.4 340.4,508.6 341.7,509.2 342.9,509.8 343.9,509.8 344.9,510.1 345.9,509.7 346.9,509.9 347.9,510.4 348.9,510.8 350.0,510.3 351.0,510.8 352.0,510.6 353.3,511.0 354.6,510.4 355.8,510.3 357.0,509.8 358.1,508.4 359.1,507.1 360.7,503.3 362.1,502.3 363.5,504.3 365.1,507.4 366.2,509.5 367.2,511.2 368.2,512.4 369.2,512.9 370.0,513.9 371.1,513.8 372.1,514.5 373.1,514.7 374.1,514.5 375.1,514.9 376.1,515.0 377.1,514.8 378.2,514.8 379.2,515.5 380.2,515.3 381.2,515.3 382.2,515.7 383.2,516.2 384.2,516.4 385.2,516.3 386.3,516.7 387.3,516.2 388.3,516.5 389.3,516.2 390.3,516.5 391.3,517.1 392.3,516.6 393.3,517.2 394.4,517.1 395.4,517.5 396.4,517.6 397.4,516.9 398.4,517.0 399.4,517.6 400.4,517.1 401.4,517.0 402.4,517.7 403.5,517.5 404.5,517.4 405.5,517.7 406.5,517.7 407.5,517.8 408.5,518.0 409.5,517.8 410.5,518.2 411.6,518.5 412.6,518.3 413.6,518.5 414.6,518.1 415.6,518.0 416.6,517.8 417.6,518.6 418.6,517.9 419.7,518.1 420.7,518.4 421.7,518.4 422.7,518.3 423.7,518.2 424.7,518.5 425.7,518.2 426.7,518.6 427.8,518.1 428.8,518.7 429.8,518.3 430.8,518.6 431.8,518.6 432.8,518.4 433.8,518.6 434.8,518.9 435.9,518.3 436.9,518.4 437.9,519.0 438.9,518.5 439.9,518.4 440.9,518.7 441.9,518.2"/><line stroke="#222" stroke-width="1" x1="65.0" y1="585.3" x2="65.0" y2="807.0"/><g stroke="#4a4a4a" stroke-width="1" fill="none" shape-rendering="crispEdges"><line x1="61.5" y1="803.5" x2="65.0" y2="803.5"/><line x1="61.5" y1="776.225" x2="65.0" y2="776.225"/><line x1="61.5" y1="748.95" x2="65.0" y2="748.95"/><line x1="61.5" y1="721.675" x2="65.0" y2="721.675"/><line x1="61.5" y1="694.4" x2="65.0" y2="694.4"/><line x1="61.5" y1="667.125" x2="65.0" y2="667.125"/><line x1="61.5" y1="639.85" x2="65.0" y2="639.85"/><line x1="61.5" y1="612.575" x2="65.0" y2="612.575"/><line x1="61.5" y1="585.3" x2="65.0" y2="585.3"/><line x1="65.0" y1="803.5" x2="484.90000000000003" y2="803.5"/><line x1="65.0" y1="803.5" x2="65.0" y2="807.0"/><line x1="134.9" y1="803.5" x2="134.9" y2="807.0"/><line x1="204.8" y1="803.5" x2="204.8" y2="807.0"/><line x1="274.70000000000005" y1="803.5" x2="274.70000000000005" y2="807.0"/><line x1="344.6" y1="803.5" x2="344.6" y2="807.0"/><line x1="414.5" y1="803.5" x2="414.5" y2="807.0"/><line x1="484.40000000000003" y1="803.5" x2="484.40000000000003" y2="807.0"/></g><g font-family="Liberation Sans, sans-serif" font-size="9.6" fill="#505050" text-anchor="end"><text x="57.6" y="806.5">0</text><text x="57.6" y="779.2">1000</text><text x="57.6" y="752.0">2000</text><text x="57.6" y="724.7">3000</text><text x="57.6" y="697.4">4000</text><text x="57.6" y="670.1">5000</text><text x="57.6" y="642.9">6000</text><text x="57.6" y="615.6">7000</text><text x="57.6" y="588.3">8000</text></g><g font-family="Liberation Sans, sans-serif" font-size="9.6" fill="#505050" text-anchor="middle"><text x="65.0" y="819.6">1100</text><text x="134.9" y="819.6">1200</text><text x="204.8" y="819.6">1300</text><text x="274.7" y="819.6">1400</text><text x="344.6" y="819.6">1500</text><text x="414.5" y="819.6">1600</text><text x="484.4" y="819.6">1700</text></g><text font-family="Liberation Sans, sans-serif" font-size="9" font-weight="bold" fill="#1e1e1e" x="230.6" y="839.0" textLength="90.7" lengthAdjust="spacing">Raman Shift / cm<tspan font-size="7.0" dy="-3.6">&#8722;1</tspan></text><text font-family="Liberation Sans, sans-serif" font-size="8.5" font-weight="bold" fill="#1e1e1e" transform="translate(32.1,717) rotate(-90)" textLength="42.6" lengthAdjust="spacing">Intensity</text><text font-family="Liberation Sans, sans-serif" font-size="10.5" font-weight="bold" fill="#111" x="-0.2" y="587">C</text><text font-family="Liberation Sans, sans-serif" font-size="10.5" font-weight="bold" fill="#111" stroke="#111" stroke-width="0.25" x="433.8" y="628.1">Ptc 3</text><text font-family="Liberation Sans, sans-serif" font-size="10.5" font-weight="bold" fill="#111" stroke="#111" stroke-width="0.25" x="433.4" y="689.8">Ptc 2</text><text font-family="Liberation Sans, sans-serif" font-size="10.5" font-weight="bold" fill="#111" stroke="#111" stroke-width="0.25" x="433.4" y="747.2">Ptc 1</text><polyline fill="none" stroke="#333" stroke-width="1" stroke-linejoin="round" points="90.1,655.5 90.7,654.5 91.3,654.8 91.9,657.0 92.6,655.9 93.4,658.3 94.2,657.7 94.8,659.0 95.5,656.5 96.2,660.1 96.9,657.7 97.5,660.2 98.2,658.9 99.0,661.3 99.8,659.0 100.9,657.2 101.7,657.4 102.3,665.8 103.3,664.9 104.3,663.0 105.1,661.0 105.9,661.7 106.6,661.8 107.3,664.0 108.0,662.8 108.7,661.1 109.6,660.0 110.4,660.2 111.1,661.8 111.8,658.9 112.8,655.4 113.4,656.5 114.0,653.0 114.7,652.9 115.4,653.5 116.1,649.2 116.8,647.9 117.4,649.2 118.1,651.1 118.7,653.8 119.3,655.4 119.9,656.3 120.5,656.3 121.2,658.3 121.8,658.4 122.5,659.8 123.3,659.5 124.1,661.9 124.8,660.3 125.5,661.5 126.3,658.8 127.0,659.5 127.8,659.6 128.6,660.0 129.4,659.7 130.2,659.1 130.9,658.5 131.6,660.8 132.3,662.8 133.0,662.8 133.6,662.6 134.3,662.4 135.0,660.1 135.7,660.3 136.5,659.4 137.3,659.1 137.9,658.2 138.5,658.2 139.1,656.4 139.9,656.0 140.7,655.3 141.5,655.8 142.3,653.5 143.1,654.5 143.8,654.0 144.5,651.4 145.2,647.7 145.8,648.0 146.4,643.7 147.4,642.8 148.1,644.7 148.8,645.9 149.8,649.0 150.9,653.5 151.5,654.3 152.1,652.6 152.7,654.4 153.3,657.1 154.1,660.3 154.9,662.2 155.7,660.8 156.5,662.1 157.2,663.1 157.9,662.3 158.9,664.0 160.0,660.6 160.7,662.1 161.4,661.1 162.2,660.2 163.0,662.0 163.8,661.6 164.6,663.4 165.3,661.1 166.0,660.9 166.7,663.3 167.4,661.6 168.3,662.0 169.1,660.2 169.9,662.2 170.7,663.5 171.4,663.7 172.1,662.1 172.8,660.5 173.5,662.3 174.3,661.7 175.1,661.1 176.0,659.8 176.8,659.3 177.5,658.2 178.2,654.4 178.8,654.4 179.4,657.7 180.0,654.8 180.7,656.7 181.4,654.5 182.1,657.3 182.8,654.1 183.5,652.7 184.3,652.9 185.1,654.0 185.9,654.7 186.7,654.2 187.4,653.3 188.2,654.0 188.9,654.3 189.6,655.5 190.4,657.3 191.2,658.1 192.0,660.0 192.8,657.0 193.5,659.2 194.2,659.8 194.9,658.7 195.6,660.0 196.5,660.4 197.3,664.5 198.1,662.0 198.9,660.5 199.6,662.3 200.3,662.7 201.0,663.3 201.7,661.8 202.5,659.2 203.3,661.1 204.1,657.0 205.0,658.9 205.7,656.1 206.4,658.8 207.1,655.4 207.8,656.6 208.4,655.4 209.0,653.9 209.8,648.0 210.4,650.1 211.0,650.0 211.7,652.8 212.4,654.4 213.5,648.5 214.3,647.8 215.1,646.6 215.8,643.6 216.5,643.5 217.5,641.4 218.5,639.3 219.5,635.6 220.3,635.6 221.2,636.5 221.9,634.7 222.6,633.6 223.3,633.6 224.0,632.1 224.6,633.9 225.2,632.5 225.9,633.7 226.6,634.1 227.3,632.6 228.0,635.9 228.6,636.7 229.3,634.4 230.0,637.6 230.7,640.4 231.4,640.0 232.1,642.7 232.7,643.6 233.3,645.0 234.3,651.0 235.3,654.6 236.0,654.1 236.7,652.4 237.4,654.6 238.2,656.2 238.8,657.1 239.4,658.9 240.1,657.5 240.8,658.8 241.5,657.1 242.2,659.1 243.0,658.8 243.8,658.2 244.5,658.1 245.2,658.8 245.9,659.8 246.7,661.0 247.5,659.8 248.2,660.7 248.9,664.1 249.6,663.4 250.3,659.9 250.9,659.2 251.5,658.9 252.2,658.0 252.9,660.7 253.6,660.4 254.4,660.6 255.0,658.3 255.6,656.7 256.3,657.0 257.0,659.7 257.7,657.2 258.4,656.0 259.2,657.4 260.0,656.7 260.8,654.3 261.6,655.3 262.3,655.1 263.1,652.0 263.8,650.4 264.5,650.0 265.3,652.3 266.1,648.6 266.9,650.0 267.7,647.3 268.4,649.5 269.1,651.6 269.8,648.7 270.5,648.7 271.4,650.4 272.2,650.7 273.0,651.2 273.8,651.1 274.4,650.0 275.0,652.4 276.1,653.4 276.9,656.0 277.7,656.5 278.4,654.8 279.1,656.6 279.8,653.5 280.5,655.5 281.3,653.3 282.1,653.2 283.0,651.5 283.8,650.4 284.5,651.9 285.2,650.5 285.9,648.7 286.6,645.0 287.4,644.9 288.2,644.1 289.0,644.0 289.8,643.2 290.5,641.7 291.3,642.2 292.3,643.9 293.3,647.5 294.0,649.1 294.7,648.9 295.5,647.5 296.3,647.3 297.1,649.9 297.9,649.1 298.6,650.2 299.4,649.3 300.1,651.9 300.8,652.1 301.6,651.8 302.4,651.5 303.2,651.2 304.0,655.0 304.7,655.6 305.4,655.6 306.1,653.8 306.8,654.5 307.7,654.7 308.5,652.8 309.3,651.4 310.1,654.9 310.8,652.5 311.5,652.7 312.2,652.4 312.9,650.6 313.7,652.5 314.5,651.2 315.3,651.8 316.2,654.0 316.9,653.7 317.6,653.9 318.3,651.9 319.0,653.8 319.8,654.3 320.6,655.2 321.4,656.2 322.2,657.9 322.9,656.5 323.6,657.5 324.4,656.2 325.1,655.4 325.9,655.1 326.7,652.5 327.5,651.3 328.3,650.8 329.0,651.5 329.7,654.5 330.4,652.2 331.1,652.7 331.9,649.3 332.8,648.3 333.6,651.3 334.4,648.7 335.1,648.9 335.8,649.3 336.5,649.4 337.2,648.7 338.0,649.2 338.8,651.9 339.6,649.7 340.4,651.0 341.2,647.7 341.9,649.2 342.6,644.8 343.3,646.0 343.9,642.7 344.5,641.4 345.3,636.2 345.9,634.6 346.5,629.2 347.2,628.4 347.9,622.5 348.6,622.3 349.4,620.5 350.0,617.5 350.6,617.5 351.6,612.6 352.4,608.6 353.4,614.1 354.0,615.7 354.6,616.3 355.4,617.6 356.0,623.1 356.6,623.8 357.3,628.2 358.1,628.7 359.1,632.3 359.8,634.5 360.5,638.2 361.5,642.3 362.1,643.1 362.7,644.1 363.4,647.8 364.1,650.1 364.8,651.2 365.5,649.8 366.4,651.9 367.2,654.7 368.0,655.4 368.8,657.6 369.4,658.2 370.0,658.9 371.1,655.6 371.9,655.7 372.7,655.7 373.4,657.8 374.1,655.9 374.8,658.5 375.5,656.7 376.3,658.7 377.1,657.0 378.0,659.0 378.8,659.3 379.5,657.6 380.2,657.2 380.9,656.5 381.6,657.9 382.4,658.2 383.2,655.7 384.0,656.7 384.8,658.0 385.5,658.4 386.3,660.0 387.0,657.8 387.7,657.7 388.5,657.9 389.3,659.9 390.1,659.0 390.9,659.8 391.6,657.5 392.3,658.1 393.0,657.7 393.7,657.9 394.6,659.0 395.4,658.4 396.4,655.6 397.1,658.1 397.8,658.0 398.6,659.5 399.4,656.0 400.2,659.3 401.0,657.6 401.7,659.0 402.4,658.6 403.2,659.7 403.9,660.0 404.7,655.9 405.5,657.5 406.3,659.3 407.1,659.5 407.8,657.1 408.5,657.0 409.2,656.0 409.9,658.7 410.7,656.6 411.6,658.3 412.4,654.2 413.2,655.8 413.9,654.6 414.6,657.5 415.3,658.8 416.0,657.5 416.8,658.3 417.6,655.5 418.4,655.7 419.3,659.7 420.0,657.7 420.7,655.9 421.4,659.2 422.1,661.1 422.9,658.5 423.7,661.0 424.5,659.5 425.3,657.8 426.0,659.2 426.7,660.4 427.4,660.6 428.2,659.8 429.0,661.7 429.8,663.0 430.6,663.4 431.4,662.9 432.1,661.0 432.8,663.5 433.5,664.0 434.2,661.2 435.0,663.6 435.9,666.0 436.7,663.9 437.5,663.3 438.2,662.9 438.9,666.5 439.6,665.3 440.3,662.9 441.1,662.3 441.9,660.7 442.7,663.3 443.5,665.6 444.3,664.3 445.0,660.8 445.7,660.9 446.4,660.3 447.2,660.1 448.0,660.5"/><polyline fill="none" stroke="#333" stroke-width="1" stroke-linejoin="round" points="89.7,713.4 90.5,707.2 91.3,703.1 92.1,702.1 93.0,711.0 93.8,713.8 94.6,707.8 95.4,709.7 96.2,714.0 97.2,708.9 98.2,709.7 99.2,707.7 100.2,711.5 101.3,708.7 102.3,709.7 103.3,707.3 104.3,707.9 105.3,710.0 106.3,709.5 107.3,705.1 108.3,707.8 109.4,710.8 110.4,709.4 111.4,708.5 112.4,707.6 113.4,705.6 114.4,708.1 115.4,708.1 116.4,707.8 117.4,705.5 118.5,705.6 119.5,702.9 120.5,704.9 121.5,704.7 122.5,702.8 123.5,699.4 124.5,701.3 125.5,698.4 126.6,699.5 127.6,701.5 128.6,703.4 129.6,707.8 130.6,702.2 131.6,703.7 132.6,704.1 133.6,706.6 134.7,704.4 135.7,709.4 136.7,705.2 137.7,708.8 138.7,713.6 139.7,707.8 140.7,706.7 141.7,705.4 142.8,701.5 143.8,701.1 144.4,700.5 145.2,705.3 145.8,705.8 146.4,706.6 147.2,710.1 147.8,705.7 148.4,705.4 149.2,708.2 149.8,707.8 150.4,710.0 151.3,709.2 151.9,710.6 152.5,708.8 153.3,710.6 153.9,710.8 154.5,709.9 155.3,713.6 155.9,714.2 156.5,712.1 157.3,715.6 157.9,714.1 158.5,713.2 159.4,716.8 160.4,718.1 161.4,715.0 162.2,714.4 163.0,709.0 164.0,711.1 165.0,709.7 166.0,711.0 167.0,709.6 168.1,715.9 168.7,711.7 169.5,715.8 170.3,711.7 171.1,714.3 172.1,709.8 173.1,715.2 174.1,709.0 175.1,712.5 176.2,711.0 177.2,713.2 178.2,709.7 178.8,709.9 179.4,711.5 180.0,712.1 180.1,712.0 181.1,706.6 182.1,707.6 183.1,707.6 184.1,706.4 185.1,706.1 186.1,710.1 187.1,707.8 188.2,713.4 189.2,713.8 190.2,711.7 191.2,708.8 192.2,710.6 193.2,711.1 194.2,714.1 195.2,709.1 196.3,709.7 197.3,707.3 198.3,709.2 199.3,709.6 200.3,712.7 201.3,710.6 202.3,713.1 203.3,712.2 204.4,714.1 205.4,710.8 206.4,710.8 207.4,707.8 208.4,716.4 209.0,719.6 209.8,714.0 210.6,711.6 211.4,708.7 212.4,708.7 213.5,710.2 214.5,714.1 215.5,713.9 216.5,712.3 217.5,712.7 218.5,708.9 219.5,708.8 220.5,708.5 221.6,710.1 222.6,708.8 223.6,711.6 224.6,710.8 225.2,708.1 226.0,706.7 226.8,702.7 227.6,706.3 228.6,703.8 229.7,701.8 230.7,700.9 231.7,700.3 232.7,700.1 233.7,698.7 234.7,702.8 235.7,706.0 236.7,703.9 237.8,706.7 238.8,708.4 239.8,709.7 240.8,704.9 241.8,708.1 242.8,709.1 243.8,711.2 244.8,710.3 245.9,711.4 246.9,710.0 247.9,710.1 248.9,710.5 249.9,709.6 250.9,711.6 251.9,714.9 252.9,712.9 253.9,712.0 255.0,712.4 256.0,712.3 257.0,711.6 258.0,709.9 259.0,712.5 260.0,711.1 261.0,710.6 262.0,709.6 263.1,709.3 264.1,708.0 265.1,709.6 266.1,709.6 267.1,707.6 268.1,710.4 269.1,706.2 270.1,707.6 271.2,705.6 272.2,705.6 273.2,704.9 274.2,706.4 275.0,706.0 275.1,701.6 276.1,706.3 277.1,701.4 278.1,707.2 279.1,706.9 280.1,705.8 281.1,707.3 282.1,703.7 283.2,707.5 284.2,703.0 285.2,703.3 286.2,709.5 287.2,705.1 288.2,702.2 289.2,708.7 290.2,707.6 291.3,704.9 292.3,702.2 293.3,707.8 294.3,703.4 295.3,705.1 296.3,703.1 297.3,707.3 298.3,703.2 299.4,705.7 300.4,703.2 301.4,704.9 302.4,703.1 303.4,702.5 304.4,703.2 305.4,702.4 306.4,705.1 307.4,700.8 308.5,701.3 309.5,704.4 310.5,699.1 311.5,701.8 312.5,701.7 313.5,702.9 314.5,700.4 315.5,702.0 316.6,699.2 317.6,705.3 318.6,707.4 319.6,701.6 320.6,703.9 321.6,702.2 322.6,704.9 323.6,702.2 324.7,703.6 325.7,701.9 326.7,701.6 327.7,704.9 328.7,701.2 329.7,703.4 330.7,698.6 331.7,704.0 332.8,700.5 333.8,706.9 334.8,701.1 335.8,706.3 336.8,702.6 337.8,706.6 338.8,700.6 339.8,701.6 340.9,704.0 341.9,701.1 342.9,704.0 343.9,704.2 344.9,700.9 345.9,706.7 346.9,704.0 347.9,706.6 348.9,700.8 350.0,702.8 351.0,706.4 352.0,704.4 353.0,700.9 354.0,704.8 355.0,701.0 356.0,705.0 357.0,702.8 358.1,704.1 359.1,700.0 360.1,692.7 361.1,693.5 362.1,690.0 363.1,687.7 364.1,683.9 365.1,680.9 366.2,679.4 367.2,680.9 368.2,681.3 369.2,678.8 370.0,678.0 370.1,682.9 370.7,685.0 371.5,687.6 372.1,694.7 372.7,698.1 373.5,697.7 374.3,700.2 375.1,699.1 376.1,704.3 377.1,705.8 378.2,701.0 379.2,697.3 380.2,709.2 381.2,703.4 382.2,702.9 383.2,708.1 384.2,705.3 385.2,707.1 386.3,704.1 387.3,708.8 388.3,704.1 389.3,706.1 390.3,707.5 391.3,706.9 392.3,706.7 393.3,704.9 394.4,707.6 395.4,703.2 396.4,710.5 397.4,702.2 398.4,706.8 399.4,707.2 400.4,707.4 401.4,710.5 402.4,712.1 403.5,707.9 404.5,712.0 405.5,710.6 406.5,709.7 407.5,709.1 408.5,707.4 409.5,707.7 410.5,706.6 411.6,708.7 412.6,708.7 413.6,712.4 414.6,712.2 415.6,710.7 416.6,712.7 417.6,716.4 418.6,714.2 419.7,710.7 420.7,713.1 421.7,709.0 422.7,711.8 423.7,708.5 424.7,713.4 425.7,712.9 426.7,712.3 427.8,706.7 428.8,713.4 429.8,711.1 430.8,712.8 431.8,712.6 432.8,716.0 433.8,709.7 434.8,714.3 435.9,711.3 436.9,715.9 437.9,714.0 438.9,713.9 439.9,714.0 440.9,716.7 441.9,714.3 442.9,717.2 443.9,716.5 445.0,714.8 446.0,715.4 447.0,713.3 448.0,714.6"/><polyline fill="none" stroke="#333" stroke-width="1" stroke-linejoin="round" points="89.7,755.3 90.4,755.2 91.1,753.6 91.8,755.2 92.6,756.1 93.2,756.2 93.8,752.1 94.5,756.5 95.2,757.0 95.9,755.7 96.6,755.7 97.2,755.5 97.8,757.0 98.5,755.1 99.2,758.0 100.2,760.6 101.3,757.4 102.3,758.8 103.3,758.0 104.3,757.5 105.3,756.6 106.3,758.8 107.3,756.7 108.0,758.0 108.7,755.0 109.4,757.3 110.0,758.4 110.7,758.0 111.4,761.1 112.4,760.5 113.4,757.0 114.4,758.7 115.4,761.6 116.4,765.3 117.4,767.7 118.5,764.0 119.5,760.6 120.5,758.4 121.5,757.9 122.5,758.8 123.5,762.1 124.5,758.4 125.5,757.0 126.6,757.2 127.6,757.9 128.6,756.2 129.6,754.7 130.6,758.9 131.6,756.5 132.6,757.9 133.6,755.4 134.7,755.5 135.7,754.5 136.7,757.4 137.7,755.9 138.7,753.8 139.7,755.0 140.7,754.2 141.7,752.4 142.8,751.0 143.8,747.7 144.8,748.4 145.8,746.7 146.8,749.5 147.8,752.9 148.8,748.5 149.8,753.0 150.9,757.5 151.9,758.5 152.9,762.7 153.9,764.0 154.9,765.9 155.9,767.3 156.9,766.7 157.9,762.8 158.9,766.8 160.0,765.9 161.0,771.9 162.0,767.3 163.0,766.7 164.0,769.1 165.0,764.5 166.0,768.6 167.0,770.2 168.1,765.4 169.1,769.9 170.1,769.1 171.1,766.6 172.1,765.8 173.1,767.7 174.1,768.8 175.1,766.0 176.2,768.0 177.2,768.9 178.2,764.4 178.8,765.0 179.4,764.9 180.0,767.1 181.1,764.1 181.7,764.5 182.3,764.3 182.9,761.5 183.5,763.2 184.1,761.1 184.7,763.4 185.4,762.7 186.1,760.4 186.8,762.7 187.6,763.7 188.2,760.5 188.8,760.8 189.5,758.7 190.2,760.1 190.9,761.6 191.6,760.6 192.4,761.2 193.2,763.0 194.0,761.6 194.8,765.1 195.5,763.1 196.3,764.4 197.0,766.9 197.7,766.5 198.3,769.5 198.9,768.4 199.6,768.3 200.3,771.2 201.0,769.8 201.7,770.0 202.3,768.6 202.9,768.8 203.6,768.7 204.4,768.6 205.4,769.0 206.4,767.0 207.4,770.8 208.4,766.5 209.4,768.9 210.4,773.0 211.4,774.9 212.4,771.6 213.5,767.1 214.5,770.5 215.5,765.9 216.5,770.1 217.5,766.6 218.5,765.0 219.5,767.8 220.5,765.1 221.6,765.5 222.6,764.7 223.6,765.1 224.6,763.2 225.6,759.1 226.6,757.5 227.6,761.3 228.6,755.7 229.7,756.3 230.7,753.6 231.7,750.0 232.7,748.2 233.7,751.9 234.7,753.8 235.7,754.7 236.7,755.5 237.8,758.6 238.8,765.1 239.8,767.2 240.8,768.3 241.8,767.6 242.8,772.1 243.8,770.9 244.8,772.3 245.9,773.3 246.9,770.0 247.9,772.7 248.9,773.0 249.9,773.3 250.9,771.2 251.9,769.9 252.9,768.3 253.9,771.3 255.0,767.9 256.0,769.9 257.0,768.8 258.0,771.2 259.0,768.5 260.0,768.1 261.0,767.6 262.0,765.9 263.1,769.7 264.1,767.8 265.1,766.4 266.1,766.0 267.1,766.3 268.1,764.0 269.1,764.3 270.1,765.8 271.2,769.2 272.2,765.2 273.2,769.5 274.2,768.5 275.0,769.1 275.1,766.8 276.1,767.8 277.1,766.9 278.1,767.3 279.1,764.2 280.1,766.8 281.1,765.8 282.1,766.8 283.2,766.5 284.2,766.1 285.2,763.7 286.2,766.6 287.2,765.0 288.2,766.4 289.2,763.0 290.2,763.0 291.3,764.7 292.3,767.7 293.3,762.7 294.3,761.7 295.3,764.5 296.3,761.1 297.3,764.0 298.3,763.7 299.4,765.1 300.4,766.9 301.4,765.4 302.4,763.6 303.4,764.8 304.4,765.6 305.4,762.7 306.4,760.0 307.4,762.5 308.5,760.6 309.5,761.1 310.5,759.8 311.5,757.0 312.5,756.9 313.5,759.0 314.5,761.1 315.5,759.2 316.6,760.4 317.6,758.1 318.6,762.3 319.6,757.6 320.6,761.7 321.6,760.2 322.6,756.7 323.6,756.4 324.7,758.7 325.7,758.1 326.7,760.9 327.7,760.9 328.7,764.2 329.7,760.0 330.7,763.6 331.7,762.5 332.8,760.9 333.8,762.2 334.8,766.3 335.8,763.5 336.8,764.7 337.8,760.6 338.8,765.3 339.8,762.2 340.9,763.6 341.9,765.4 342.9,764.0 343.9,764.5 344.9,763.8 345.9,764.6 346.9,763.3 347.9,761.2 348.9,761.7 350.0,761.0 351.0,766.2 352.0,768.2 353.0,764.1 354.0,762.0 355.0,760.2 356.0,763.0 357.0,760.3 358.1,758.8 359.1,762.8 360.1,767.5 361.1,761.3 362.1,760.4 363.1,757.8 364.1,758.5 365.1,758.0 366.2,755.9 367.2,755.4 368.2,751.3 369.2,752.0 370.0,753.1 370.1,750.2 371.1,746.6 372.1,745.1 373.1,746.5 374.1,744.1 375.1,747.3 376.1,748.4 377.1,751.4 378.2,754.8 379.2,755.8 380.2,759.4 381.2,760.1 382.2,760.7 383.2,762.7 384.2,758.7 385.2,761.2 386.3,762.5 387.3,763.4 388.3,761.1 389.3,764.5 390.3,761.6 391.3,766.1 392.3,762.6 393.3,767.1 394.4,768.0 395.4,761.1 396.4,768.2 397.4,763.8 398.4,765.5 399.4,767.6 400.4,764.6 401.4,766.6 402.4,766.3 403.5,766.4 404.5,765.7 405.5,765.1 406.5,763.6 407.5,768.2 408.5,766.9 409.5,769.3 410.5,766.8 411.6,765.8 412.6,768.1 413.6,767.7 414.6,766.2 415.6,766.2 416.6,763.9 417.6,766.3 418.6,765.6 419.7,767.8 420.7,766.1 421.7,764.9 422.7,765.2 423.7,768.7 424.7,765.1 425.7,765.7 426.7,764.6 427.8,767.9 428.8,763.5 429.8,767.0 430.8,769.6 431.8,768.4 432.8,769.5 433.8,767.0 434.8,770.9 435.9,767.6 436.9,767.1 437.9,766.4 438.9,768.9 439.9,768.2 440.9,769.3 441.9,770.1 442.9,772.0 443.9,773.8 445.0,769.6 446.0,773.1 447.0,766.0 448.0,772.6 448.6,772.6"/>
</svg></body></html>
